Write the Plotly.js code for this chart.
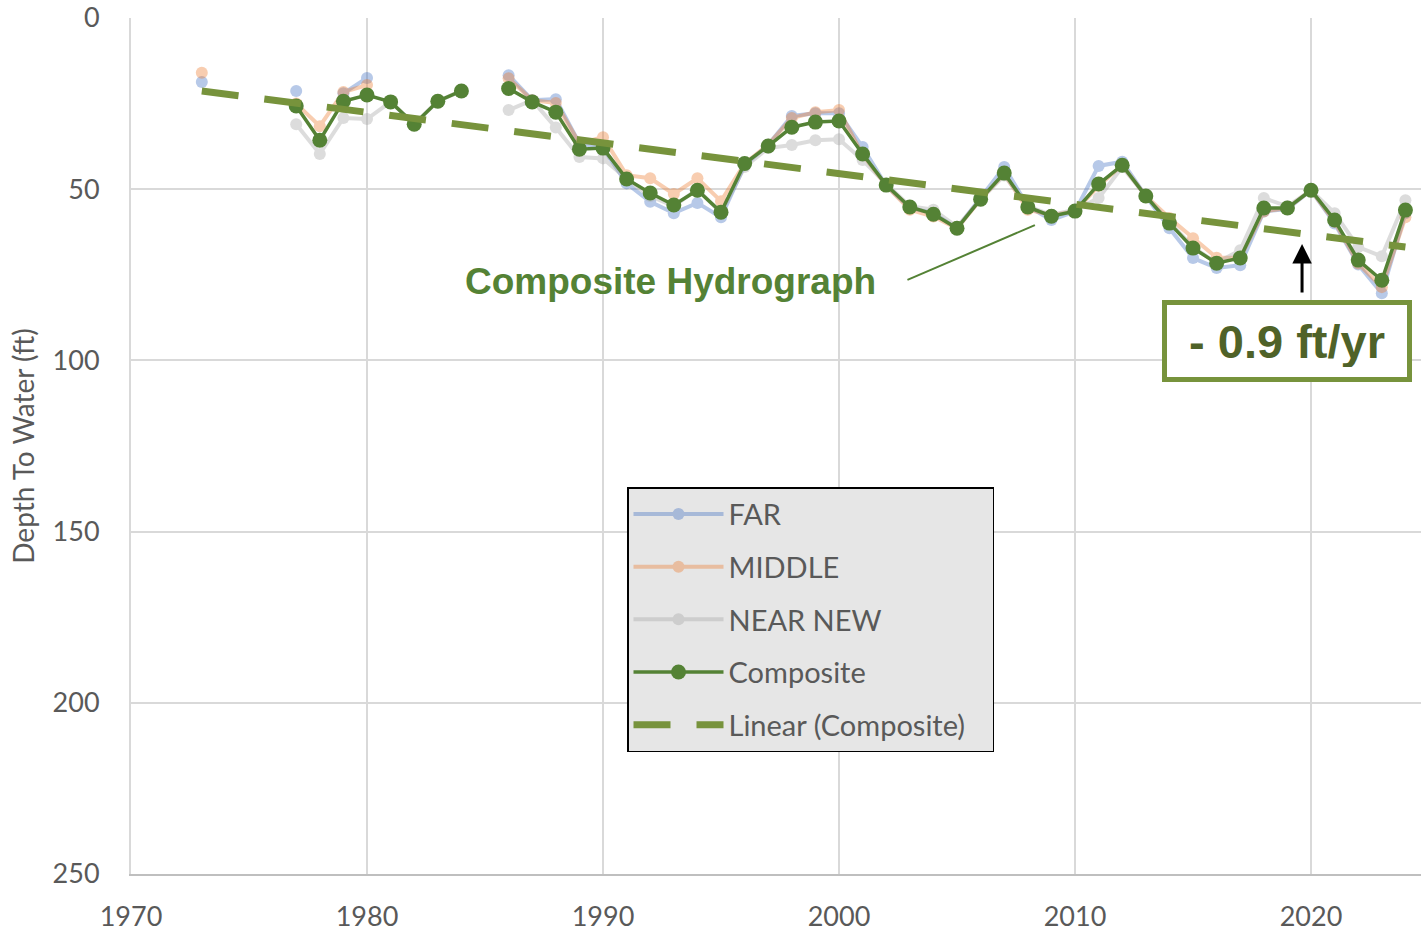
<!DOCTYPE html>
<html>
<head>
<meta charset="utf-8">
<script src="https://cdn.plot.ly/plotly-3.0.1.min.js"></script>
<style>
  body { margin: 0; background: #fff; }
  #chart { width: 1421px; height: 931px; }
</style>
</head>
<body>
<div id="chart"></div>
<script>
let years = [1973, 1975, 1977, 1978, 1979, 1980, 1981, 1982, 1983, 1984, 1985, 1986, 1987, 1988, 1989,
  1990, 1991, 1992, 1993, 1994, 1995, 1996, 1997, 1998, 1999, 2000, 2001, 2002, 2003, 2004,
  2005, 2006, 2007, 2008, 2009, 2010, 2011, 2012, 2013, 2014, 2015, 2016, 2017, 2018, 2019,
  2020, 2021, 2022, 2023, 2024];

let far = [18.7, null, 21.3, null, 22.0, 17.5, null, null, null, null, null, 16.7, 24.0, 23.7, 36.6,
  38.0, 48.3, 53.7, 57.0, 54.0, 58.2, 43.0, 37.0, 28.6, 27.8, 27.8, 37.7, 49.0, 55.5, 57.0,
  61.5, 52.5, 43.5, 55.0, 59.0, 56.5, 43.2, 42.0, 52.0, 61.4, 70.1, 73.0, 72.2, 56.5, 55.8,
  50.3, 60.0, 72.0, 80.4, 57.0];

let middle = [16.0, null, 25.0, 31.6, 21.6, 19.6, null, null, null, null, null, 17.6, 24.0, 24.8, 36.6,
  34.8, 45.9, 46.8, 51.4, 46.8, 53.5, 42.5, 37.0, 29.2, 27.5, 26.9, 40.0, 49.0, 56.0, 58.0,
  61.5, 53.0, 45.5, 56.0, 57.5, 56.5, 49.0, 43.0, 52.0, 58.4, 64.3, 70.0, 70.0, 56.5, 55.5,
  50.3, 59.5, 71.7, 78.6, 58.2];

let nearNew = [null, null, 31.0, 39.7, 29.2, 29.5, 24.5, 31.0, 24.3, 21.3, null, 26.9, 24.0, 32.0, 40.6,
  41.0, 47.0, 52.0, 55.0, 50.0, 57.0, 43.5, 38.0, 37.1, 35.7, 35.4, 41.5, 48.5, 55.0, 56.0,
  61.0, 53.0, 46.0, 55.0, 57.5, 56.0, 52.6, 43.5, 52.0, 59.5, 67.0, 71.5, 67.8, 52.6, 55.0,
  50.3, 57.0, 66.9, 69.6, 53.2];

let composite = [null, null, 25.7, 35.7, 24.3, 22.5, 24.5, 31.0, 24.3, 21.3, null, 20.6, 24.5, 27.5, 38.3,
  38.0, 47.0, 51.1, 54.6, 50.3, 56.7, 42.5, 37.4, 31.9, 30.4, 30.1, 39.7, 48.8, 55.2, 57.3,
  61.4, 52.9, 45.3, 55.2, 57.9, 56.4, 48.5, 43.0, 52.0, 59.9, 67.2, 71.6, 70.1, 55.5, 55.5,
  50.3, 59.0, 70.7, 76.6, 56.1];

let trendYears = [1973, 2024];
let trendDepth = [21.3, 66.9];

let xTicks = [1970, 1980, 1990, 2000, 2010, 2020];
let yTicks = [0, 50, 100, 150, 200, 250];

let baseFont = "Lato, 'Open Sans', sans-serif";

function lightTrace(name, values, color) {
  return {
    x: years, y: values, name: name, type: "scatter", mode: "lines+markers",
    connectgaps: false, opacity: 0.38, legendgroup: name,
    line: {color: color, width: 4},
    marker: {color: color, size: 12}
  };
}

let data = [
  lightTrace("FAR", far, "#4472C4"),
  lightTrace("MIDDLE", middle, "#ED7D31"),
  lightTrace("NEAR NEW", nearNew, "#A5A5A5"),
  {
    x: years, y: composite, name: "Composite", type: "scatter", mode: "lines+markers",
    legendgroup: "Composite",
    line: {color: "#548235", width: 3.5},
    marker: {color: "#548235", size: 15}
  },
  {
    x: trendYears, y: trendDepth, name: "Linear (Composite)&nbsp;&nbsp;&nbsp;", type: "scatter", mode: "lines",
    legendgroup: "Linear",
    line: {color: "#77933C", width: 7, dash: "37px,26px"}
  }
];

let layout = {
  width: 1421, height: 931,
  margin: {l: 131, r: 0, t: 18, b: 57},
  paper_bgcolor: "#ffffff", plot_bgcolor: "#ffffff",
  font: {family: baseFont, size: 27, color: "#595959"},
  showlegend: true,
  legend: {
    x: 0.3845, y: 0.452, xanchor: "left", yanchor: "top",
    bgcolor: "#E6E6E6", bordercolor: "#000000", borderwidth: 1.5,
    font: {family: baseFont, size: 29, color: "#595959"},
    traceorder: "grouped", tracegroupgap: 12, itemwidth: 90
  },
  xaxis: {
    range: [1970, 2024.66], tickvals: xTicks, ticktext: xTicks.map(String),
    showgrid: true, gridcolor: "#D9D9D9", gridwidth: 2,
    showline: true, linecolor: "#BFBFBF", linewidth: 2,
    zeroline: false, ticks: "", ticklabelstandoff: 18,
    tickfont: {size: 27, color: "#595959"}
  },
  yaxis: {
    range: [250, 0], tickvals: yTicks, ticktext: yTicks.map(String),
    showgrid: true, gridcolor: "#D9D9D9", gridwidth: 2,
    showline: true, linecolor: "#D9D9D9", linewidth: 2,
    zeroline: false, ticks: "", ticklabelstandoff: 24,
    tickfont: {size: 27, color: "#595959"},
    title: {text: "Depth To Water (ft)", font: {size: 28, color: "#595959"}, standoff: 10}
  },
  shapes: [
    {type: "line", xref: "x", yref: "y", x0: 2002.9, y0: 76.5, x1: 2008.3, y1: 60.5,
     line: {color: "#548235", width: 2}}
  ],
  annotations: [
    {xref: "x", yref: "y", x: 2001.65, y: 77.1, text: "<b>Composite Hydrograph</b>",
     showarrow: false, xanchor: "right",
     font: {family: "'Liberation Sans', Arial, sans-serif", size: 37, color: "#548235"}},
    {xref: "x", yref: "y", x: 2019.62, y: 66, ax: 0, ay: 50, text: "",
     showarrow: true, arrowhead: 2, arrowsize: 1.3, arrowwidth: 3, arrowcolor: "#000000"},
    {xref: "x", yref: "y", x: 2019.0, y: 94.2, text: "<b>- 0.9 ft/yr</b>",
     showarrow: false, bgcolor: "#ffffff", bordercolor: "#77933C", borderwidth: 5,
     borderpad: 10, width: 220, height: 52,
     font: {family: "'Liberation Sans', Arial, sans-serif", size: 47, color: "#4F6228"}}
  ]
};

Plotly.newPlot("chart", data, layout, {displayModeBar: false});
</script>
</body>
</html>
